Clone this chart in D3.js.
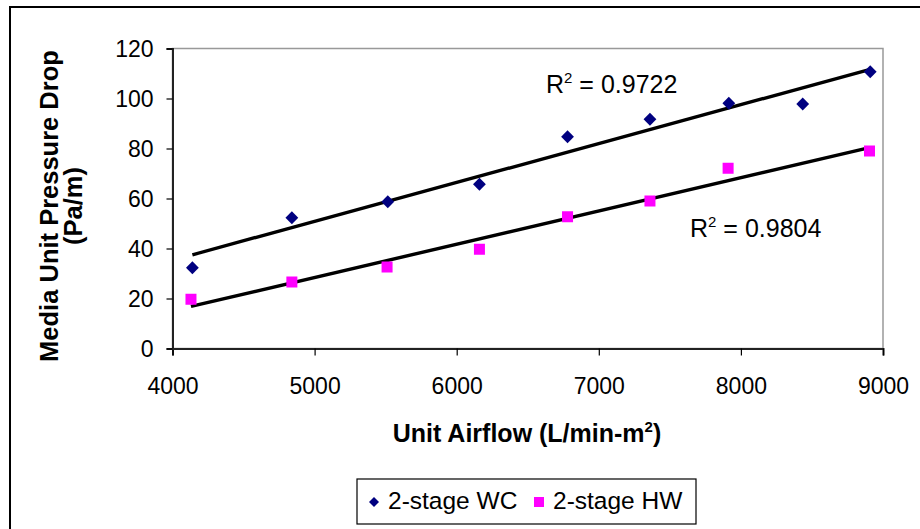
<!DOCTYPE html>
<html><head><meta charset="utf-8">
<script src="https://cdn.jsdelivr.net/npm/d3@7"></script>
<style>body{margin:0;background:#fff}svg{display:block;font-family:"Liberation Sans",Arial,sans-serif}</style>
</head><body>
<svg id="c" width="920" height="529"></svg>
<script>
const wcAirflow = [4140, 4840, 5515, 6160, 6780, 7360, 7915, 8435, 8910];
const wcDrop    = [32.3, 52.3, 58.7, 65.7, 84.7, 91.7, 98.1, 97.8, 110.7];
const hwAirflow = [4130, 4840, 5510, 6160, 6780, 7360, 7910, 8905];
const hwDrop    = [19.7, 26.6, 32.6, 39.7, 52.7, 59.0, 72.1, 79.0];
const xTicks = [4000, 5000, 6000, 7000, 8000, 9000];
const yTicks = [0, 20, 40, 60, 80, 100, 120];
const seriesNames = ["2-stage WC", "2-stage HW"];
const r2Labels = ["0.9722", "0.9804"];

const svg = d3.select("#c");
svg.append("rect").attr("x",10).attr("y",7).attr("width",930).attr("height",540)
  .attr("fill","#fff").attr("stroke","#000").attr("stroke-width",2);

const x = d3.scaleLinear().domain([4000, 9000]).range([172.5, 883]);
const y = d3.scaleLinear().domain([0, 120]).range([348.5, 48.5]);

// plot area border
svg.append("rect").attr("x",x(4000)).attr("y",y(120)).attr("width",x(9000)-x(4000)).attr("height",y(0)-y(120))
  .attr("fill","none").attr("stroke","#999").attr("stroke-width",1.5);

const gx = svg.append("g").attr("transform",`translate(0,${y(0)})`)
  .call(d3.axisBottom(x).tickValues(xTicks).tickSize(7).tickPadding(22).tickFormat(d3.format("d")));
const gy = svg.append("g").attr("transform",`translate(${x(4000)},0)`)
  .call(d3.axisLeft(y).tickValues(yTicks).tickSize(6).tickPadding(13).tickFormat(d3.format("d")));
[gx, gy].forEach(g => {
  g.select(".domain").attr("stroke","#222").attr("stroke-width",2);
  g.selectAll(".tick line").attr("stroke","#000").attr("stroke-width",1.2);
  g.selectAll(".tick text").attr("fill","#000").style("font-size","23px").style("font-family","Liberation Sans, Arial");
});
gy.selectAll(".tick text").attr("dy","0.36em");
gx.selectAll(".tick text").attr("dy","0.72em");

// trendlines (least squares fit)
function fit(xs, ys){
  const mx = d3.mean(xs), my = d3.mean(ys);
  let sxy=0, sxx=0;
  xs.forEach((v,i)=>{ sxy += (v-mx)*(ys[i]-my); sxx += (v-mx)*(v-mx); });
  const b = sxy/sxx, a = my - b*mx;
  const [x0,x1] = d3.extent(xs);
  return [[x0, a+b*x0],[x1, a+b*x1]];
}
const line = d3.line().x(d=>x(d[0])).y(d=>y(d[1]));
[fit(wcAirflow, wcDrop), fit(hwAirflow, hwDrop)].forEach(pts => {
  svg.append("path").attr("d", line(pts)).attr("fill","none").attr("stroke","#000").attr("stroke-width",3.4);
});

// markers
svg.append("g").selectAll("path").data(wcAirflow).join("path")
  .attr("d", d3.symbol().type(d3.symbolSquare).size(82))
  .attr("transform",(d,i)=>`translate(${x(d)},${y(wcDrop[i])}) rotate(45)`)
  .attr("fill","#000080");
svg.append("g").selectAll("rect").data(hwAirflow).join("rect")
  .attr("x",d=>x(d)-5.5).attr("y",(d,i)=>y(hwDrop[i])-5.5).attr("width",11).attr("height",11)
  .attr("fill","#ff00ff");

// R² labels
function r2(xp, yp, val){
  const t = svg.append("text").attr("x",xp).attr("y",yp).style("font-size","25px").attr("fill","#000");
  t.append("tspan").text("R");
  t.append("tspan").attr("dy",-10).style("font-size","15px").text("2");
  t.append("tspan").attr("dy",10).text(" = " + val);
}
r2(546, 93, r2Labels[0]);
r2(690, 237, r2Labels[1]);

// axis titles
const xt = svg.append("text").attr("x",527).attr("y",442).attr("text-anchor","middle")
  .style("font-size","25px").style("font-weight","bold").attr("fill","#000");
xt.append("tspan").text("Unit Airflow (L/min-m");
xt.append("tspan").attr("dy",-10).style("font-size","15px").text("2");
xt.append("tspan").attr("dy",10).text(")");

const yt = svg.append("text").attr("transform","translate(58,206) rotate(-90)").attr("text-anchor","middle")
  .style("font-size","25.5px").style("font-weight","bold").attr("fill","#000");
yt.append("tspan").attr("x",0).attr("y",0).text("Media Unit Pressure Drop");
yt.append("tspan").attr("x",0).attr("y",24).text("(Pa/m)");

// legend
const lg = svg.append("g");
lg.append("rect").attr("x",357).attr("y",479).attr("width",339).attr("height",45)
  .attr("fill","#fff").attr("stroke","#000").attr("stroke-width",1.2);
lg.append("path").attr("d", d3.symbol().type(d3.symbolSquare).size(50))
  .attr("transform","translate(374,502) rotate(45)").attr("fill","#000080");
lg.append("text").attr("x",388).attr("y",509).style("font-size","24.5px").attr("fill","#000").text(seriesNames[0]);
lg.append("rect").attr("x",534).attr("y",497).attr("width",10).attr("height",10).attr("fill","#ff00ff");
lg.append("text").attr("x",553).attr("y",509).style("font-size","24.5px").attr("fill","#000").text(seriesNames[1]);
</script>
</body></html>
